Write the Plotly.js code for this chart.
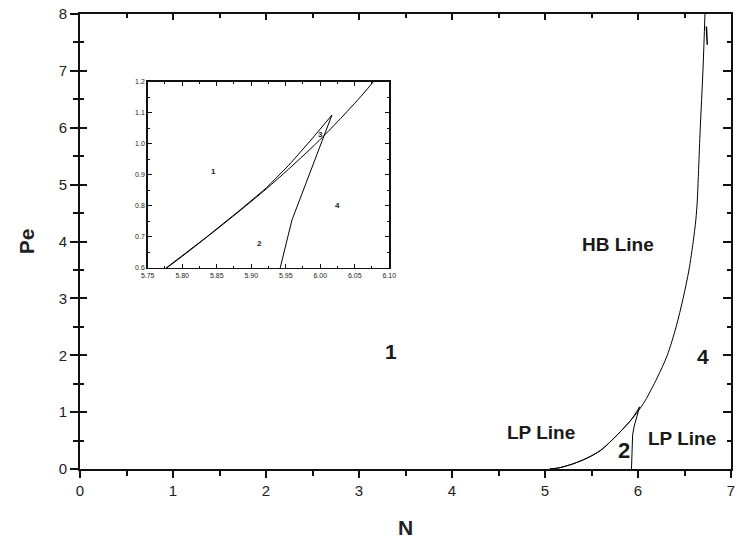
<!DOCTYPE html>
<html>
<head>
<meta charset="utf-8">
<script src="https://cdn.plot.ly/plotly-3.0.1.min.js"></script>
<style>html,body{margin:0;padding:0;background:#fff;}#chart{width:737px;height:545px;}</style>
</head>
<body>
<div id="chart"></div>
<script>
// HB line (Hopf bifurcation) : N vs Pe
const hbN  = [5.05, 5.15, 5.3, 5.45, 5.6, 5.7775, 5.835, 5.884, 5.922, 5.954, 6.004, 6.077, 6.205, 6.315, 6.41, 6.485, 6.548, 6.594, 6.622, 6.638, 6.650, 6.667, 6.700, 6.72];
const hbPe = [0,    0.02, 0.09, 0.19, 0.33, 0.6,  0.698, 0.785, 0.855, 0.918, 1.023, 1.2,  1.6,   2.0,   2.5,  3.0,   3.5,   4.0,   4.38,  4.73,  5.2,   5.9,   7.07,  8.0];
// small hook near the top of the HB line
const hookN  = [6.735, 6.745];
const hookPe = [7.78, 7.46];
// LP line (limit point): rising branch up to the cusp
const lpRiseN  = [5.93, 5.932, 5.936, 5.942, 5.959, 6.017];
const lpRisePe = [0,    0.2,   0.4,   0.6,   0.754, 1.093];
// LP line: returning branch from the cusp
const lpBackN  = [6.017, 5.985, 5.954, 5.922, 5.884, 5.835, 5.7775, 5.6, 5.45, 5.3, 5.15, 5.05];
const lpBackPe = [1.093, 1.008, 0.930, 0.858, 0.787, 0.699, 0.601, 0.33, 0.19, 0.09, 0.02, 0];

// Region / curve labels (main)
const mainLabels = [
  {text: 'HB Line', N: 5.79, Pe: 3.95, size: 19},
  {text: '1', N: 3.34, Pe: 2.07, size: 21},
  {text: '4', N: 6.70, Pe: 1.97, size: 21},
  {text: 'LP Line', N: 4.96, Pe: 0.65, size: 19},
  {text: '2', N: 5.85, Pe: 0.33, size: 22},
  {text: 'LP Line', N: 6.47, Pe: 0.53, size: 19}
];
// Region labels (inset)
const insetLabels = [
  {text: '1', N: 5.845, Pe: 0.91},
  {text: '2', N: 5.912, Pe: 0.68},
  {text: '3', N: 6.000, Pe: 1.03},
  {text: '4', N: 6.025, Pe: 0.80}
];

const FONT = 'Liberation Sans, Arial, Helvetica, sans-serif';
const line = {color: '#000', width: 1};
const sline = {color: '#000', width: 1, shape: 'spline', smoothing: 0.8};

const traces = [
  {x: hbN, y: hbPe, mode: 'lines', line: sline, xaxis: 'x', yaxis: 'y', hoverinfo: 'skip'},
  {x: hookN, y: hookPe, mode: 'lines', line: {color: '#000', width: 1.5}, xaxis: 'x', yaxis: 'y', hoverinfo: 'skip'},
  {x: lpRiseN, y: lpRisePe, mode: 'lines', line: line, xaxis: 'x', yaxis: 'y', hoverinfo: 'skip'},
  {x: lpBackN, y: lpBackPe, mode: 'lines', line: sline, xaxis: 'x', yaxis: 'y', hoverinfo: 'skip'},
  // dummy traces for mirrored axes
  {x: [null], y: [null], mode: 'lines', xaxis: 'x2', yaxis: 'y2', hoverinfo: 'skip'},
  {x: [null], y: [null], mode: 'lines', xaxis: 'x', yaxis: 'y3', hoverinfo: 'skip'},
  // inset
  {x: hbN, y: hbPe, mode: 'lines', line: sline, xaxis: 'x3', yaxis: 'y4', hoverinfo: 'skip'},
  {x: lpRiseN, y: lpRisePe, mode: 'lines', line: line, xaxis: 'x3', yaxis: 'y4', hoverinfo: 'skip'},
  {x: lpBackN, y: lpBackPe, mode: 'lines', line: line, xaxis: 'x3', yaxis: 'y4', hoverinfo: 'skip'}
];

const annotations = [];
mainLabels.forEach(l => annotations.push({
  text: '<b>' + l.text + '</b>', x: l.N, y: l.Pe, xref: 'x', yref: 'y', showarrow: false,
  font: {family: FONT, size: l.size, color: '#1a1a1a'}
}));
insetLabels.forEach(l => annotations.push({
  text: '<b>' + l.text + '</b>', x: l.N, y: l.Pe, xref: 'x3', yref: 'y4', showarrow: false,
  font: {family: FONT, size: 8, color: '#222'}
}));

const axCommon = {showgrid: false, zeroline: false, linecolor: '#111', linewidth: 2, tickcolor: '#111', tickwidth: 2};
const minorOut = {ticks: 'outside', ticklen: 5, tickwidth: 2, tickcolor: '#111'};
const minorIn = {ticks: 'inside', ticklen: 4, tickwidth: 2, tickcolor: '#111'};

const layout = {
  width: 737, height: 545,
  margin: {l: 80, r: 6, t: 14, b: 76},
  paper_bgcolor: '#fff', plot_bgcolor: '#fff',
  showlegend: false,
  font: {family: FONT, color: '#222'},
  xaxis: Object.assign({}, axCommon, {
    range: [0, 7], dtick: 1, tick0: 0, ticks: 'outside', ticklen: 7,
    minor: Object.assign({dtick: 0.5}, minorOut),
    tickfont: {family: FONT, size: 15, color: '#222'},
    title: {text: '<b>N</b>', font: {family: FONT, size: 21, color: '#222'}, standoff: 22},
    domain: [0, 1], anchor: 'y', automargin: false
  }),
  yaxis: Object.assign({}, axCommon, {
    range: [0, 8], dtick: 1, tick0: 0, ticks: 'outside', ticklen: 8,
    minor: Object.assign({dtick: 0.5}, minorOut),
    tickfont: {family: FONT, size: 15, color: '#222'},
    title: {text: '<b>Pe</b>', font: {family: FONT, size: 21, color: '#222'}, standoff: 18},
    domain: [0, 1], anchor: 'x', automargin: false
  }),
  xaxis2: Object.assign({}, axCommon, {
    range: [0, 7], dtick: 1, ticks: 'inside', ticklen: 6, overlaying: 'x', side: 'top', anchor: 'y2',
    minor: Object.assign({dtick: 0.5}, minorIn),
    showticklabels: false, automargin: false
  }),
  yaxis2: Object.assign({}, axCommon, {
    range: [0, 8], dtick: 1, ticks: 'inside', ticklen: 8, overlaying: 'y', side: 'right', anchor: 'x2',
    minor: Object.assign({dtick: 0.5}, minorIn),
    showticklabels: false, automargin: false
  }),
  yaxis3: Object.assign({}, axCommon, {
    range: [0, 8], dtick: 1, ticks: 'inside', ticklen: 7, overlaying: 'y', side: 'left', anchor: 'x',
    minor: Object.assign({dtick: 0.5}, minorIn),
    showticklabels: false, showline: false, automargin: false
  }),
  xaxis3: {
    domain: [0.104, 0.475], anchor: 'y4', range: [5.75, 6.10], dtick: 0.05, tick0: 5.75, tickformat: '.2f',
    showgrid: false, zeroline: false, showline: true, linecolor: '#111', linewidth: 1.5, mirror: 'allticks',
    ticks: 'inside', ticklen: 4, tickwidth: 1, tickcolor: '#111',
    minor: {dtick: 0.025, ticks: 'inside', ticklen: 2, tickwidth: 1, tickcolor: '#111'},
    tickfont: {family: FONT, size: 7, color: '#222'}, automargin: false
  },
  yaxis4: {
    domain: [0.442, 0.851], anchor: 'x3', range: [0.6, 1.2], dtick: 0.1, tick0: 0.6, tickformat: '.1f',
    showgrid: false, zeroline: false, showline: true, linecolor: '#111', linewidth: 1.5, mirror: 'allticks',
    ticks: 'inside', ticklen: 4, tickwidth: 1, tickcolor: '#111',
    minor: {dtick: 0.05, ticks: 'inside', ticklen: 2, tickwidth: 1, tickcolor: '#111'},
    tickfont: {family: FONT, size: 7, color: '#222'}, automargin: false
  },
  annotations: annotations
};

Plotly.newPlot('chart', traces, layout, {staticPlot: true, displayModeBar: false});
</script>
</body>
</html>
